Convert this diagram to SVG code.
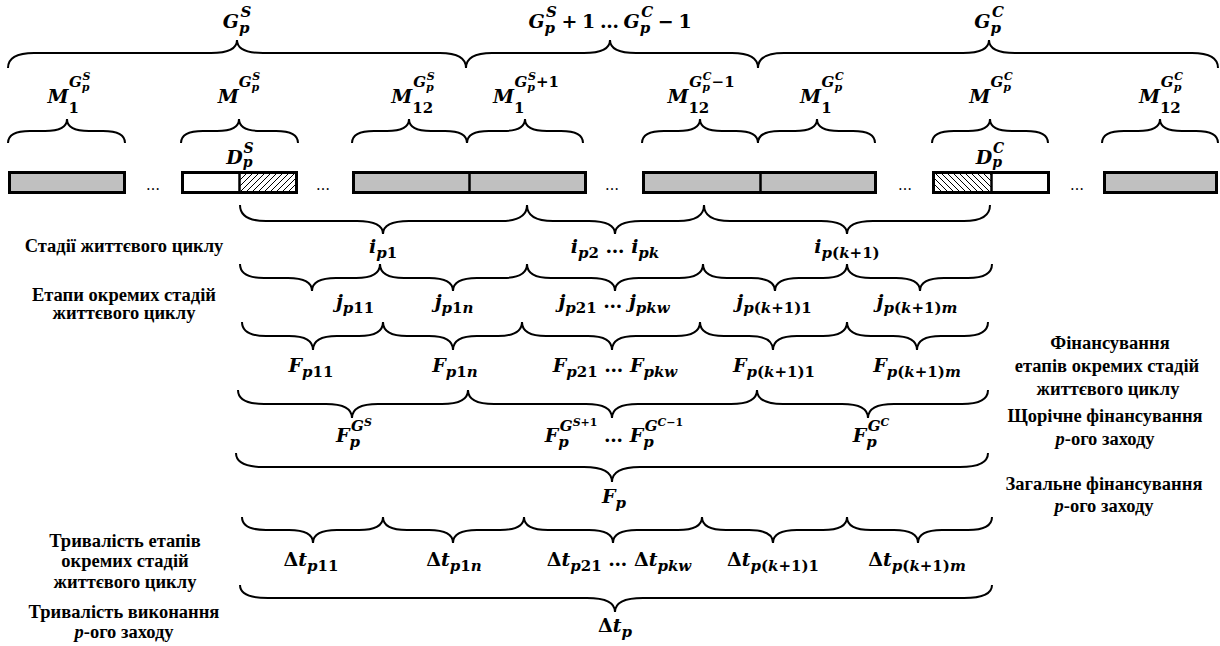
<svg xmlns="http://www.w3.org/2000/svg" width="1220" height="646" viewBox="0 0 1220 646">
<style>
.br{fill:none;stroke:#000;stroke-width:2}
.bar{stroke:#000;stroke-width:3}
.m{font-family:'DejaVu Serif',serif;font-weight:bold;font-style:italic;font-size:19px;text-anchor:middle;fill:#000}
.s{font-size:15px}
.ss{font-size:11px}
.n{font-style:normal}
.lb{font-family:'Liberation Serif',serif;font-weight:bold;font-size:18.5px;text-anchor:middle;fill:#000}
.it{font-style:italic}
.dots{font-family:'DejaVu Serif',serif;font-size:14px;text-anchor:middle;fill:#000}
</style>
<defs>
<pattern id="hf" width="6" height="6" patternUnits="userSpaceOnUse"><path d="M0,6 L6,0 M-1,1 L1,-1 M5,7 L7,5" stroke="#000" stroke-width="1"/></pattern>
<pattern id="hb" width="6" height="6" patternUnits="userSpaceOnUse"><path d="M0,0 L6,6 M-1,5 L1,7 M5,-1 L7,1" stroke="#000" stroke-width="1"/></pattern>
</defs>
<rect width="1220" height="646" fill="#fff"/>

<g id="bars">
<rect class="bar" x="9.5" y="172.5" width="115" height="20" fill="#c0c0c0"/>
<g id="bar-start">
<rect x="182.5" y="172.5" width="57" height="20" fill="#fff"/>
<rect x="239.5" y="172.5" width="57" height="20" fill="url(#hf)"/>
<rect class="bar" x="182.5" y="172.5" width="114" height="20" fill="none"/>
<line x1="239.5" y1="172" x2="239.5" y2="193" stroke="#000" stroke-width="2.5"/>
</g>
<rect class="bar" x="353.5" y="172.5" width="232" height="20" fill="#c0c0c0"/>
<line x1="469.5" y1="172" x2="469.5" y2="193" stroke="#000" stroke-width="2.5"/>
<rect class="bar" x="643.5" y="172.5" width="232" height="20" fill="#c0c0c0"/>
<line x1="760.5" y1="172" x2="760.5" y2="193" stroke="#000" stroke-width="2.5"/>
<g id="bar-end">
<rect x="933.5" y="172.5" width="58" height="20" fill="url(#hb)"/>
<rect x="991.5" y="172.5" width="57" height="20" fill="#fff"/>
<rect class="bar" x="933.5" y="172.5" width="115" height="20" fill="none"/>
<line x1="991.5" y1="172" x2="991.5" y2="193" stroke="#000" stroke-width="2.5"/>
</g>
<rect class="bar" x="1104.5" y="172.5" width="112" height="20" fill="#c0c0c0"/>
<text class="dots" x="153" y="190">…</text>
<text class="dots" x="323" y="190">…</text>
<text class="dots" x="612" y="190">…</text>
<text class="dots" x="905" y="190">…</text>
<text class="dots" x="1077" y="190">…</text>
</g>

<g id="connectors">
<path class="br" d="M8 68 Q8 53 34 53 H211 Q237 53 237 40 Q237 53 263 53 H440 Q466 53 466 68"/>
<path class="br" d="M466 68 Q466 53 492 53 H584 Q610 53 610 40 Q610 53 636 53 H732 Q758 53 758 68"/>
<path class="br" d="M758 68 Q758 53 784 53 H963 Q989 53 989 40 Q989 53 1015 53 H1192 Q1218 53 1218 68"/>

<path class="br" d="M8 143 Q8 131 30 131 H45 Q67 131 67 119 Q67 131 89 131 H103 Q125 131 125 143"/>
<path class="br" d="M181 143 Q181 131 203 131 H217 Q239 131 239 119 Q239 131 261 131 H276 Q298 131 298 143"/>
<path class="br" d="M352 143 Q352 131 374 131 H387 Q409 131 409 119 Q409 131 431 131 H445 Q467 131 467 143"/>
<path class="br" d="M467 143 Q467 131 489 131 H503 Q525 131 525 119 Q525 131 547 131 H561 Q583 131 583 143"/>
<path class="br" d="M642 143 Q642 131 664 131 H678 Q700 131 700 119 Q700 131 722 131 H736 Q758 131 758 143"/>
<path class="br" d="M758 143 Q758 131 780 131 H795 Q817 131 817 119 Q817 131 839 131 H853 Q875 131 875 143"/>
<path class="br" d="M932 143 Q932 131 954 131 H968 Q990 131 990 119 Q990 131 1012 131 H1026 Q1048 131 1048 143"/>
<path class="br" d="M1102 143 Q1102 131 1124 131 H1138 Q1160 131 1160 119 Q1160 131 1182 131 H1196 Q1218 131 1218 143"/>

<path class="br" d="M240 205 Q240 221 266 221 H357 Q383 221 383 234 Q383 221 409 221 H501 Q527 221 527 205"/>
<path class="br" d="M527 205 Q527 221 553 221 H589 Q615 221 615 234 Q615 221 641 221 H678 Q704 221 704 205"/>
<path class="br" d="M704 205 Q704 221 730 221 H821 Q847 221 847 234 Q847 221 873 221 H964 Q990 221 990 205"/>

<path class="br" d="M240 264 Q240 278 264 278 H288 Q312 278 312 291 Q312 278 336 278 H356 Q380 278 380 264"/>
<path class="br" d="M380 264 Q380 278 404 278 H429 Q453 278 453 291 Q453 278 477 278 H503 Q527 278 527 264"/>
<path class="br" d="M527 264 Q527 278 551 278 H591 Q615 278 615 291 Q615 278 639 278 H679 Q703 278 703 264"/>
<path class="br" d="M703 264 Q703 278 727 278 H751 Q775 278 775 291 Q775 278 799 278 H823 Q847 278 847 264"/>
<path class="br" d="M847 264 Q847 278 871 278 H896 Q920 278 920 291 Q920 278 944 278 H968 Q992 278 992 264"/>

<path class="br" d="M242 322 Q242 336 266 336 H289 Q313 336 313 350 Q313 336 337 336 H359 Q383 336 383 322"/>
<path class="br" d="M383 322 Q383 336 407 336 H429 Q453 336 453 350 Q453 336 477 336 H498 Q522 336 522 322"/>
<path class="br" d="M522 322 Q522 336 546 336 H588 Q612 336 612 350 Q612 336 636 336 H676 Q700 336 700 322"/>
<path class="br" d="M700 322 Q700 336 724 336 H749 Q773 336 773 350 Q773 336 797 336 H823 Q847 336 847 322"/>
<path class="br" d="M847 322 Q847 336 871 336 H893 Q917 336 917 350 Q917 336 941 336 H964 Q988 336 988 322"/>

<path class="br" d="M238 390 Q238 404 264 404 H326 Q352 404 352 418 Q352 404 378 404 H442 Q468 404 468 390"/>
<path class="br" d="M468 390 Q468 404 494 404 H586 Q612 404 612 418 Q612 404 638 404 H731 Q757 404 757 390"/>
<path class="br" d="M757 390 Q757 404 783 404 H842 Q868 404 868 418 Q868 404 894 404 H962 Q988 404 988 390"/>

<path class="br" d="M236 453 Q236 467 264 467 H584 Q612 467 612 482 Q612 467 640 467 H960 Q988 467 988 453"/>

<path class="br" d="M242 517 Q242 530 266 530 H289 Q313 530 313 543 Q313 530 337 530 H359 Q383 530 383 517"/>
<path class="br" d="M383 517 Q383 530 407 530 H429 Q453 530 453 543 Q453 530 477 530 H500 Q524 530 524 517"/>
<path class="br" d="M524 517 Q524 530 548 530 H589 Q613 530 613 543 Q613 530 637 530 H678 Q702 530 702 517"/>
<path class="br" d="M702 517 Q702 530 726 530 H749 Q773 530 773 543 Q773 530 797 530 H823 Q847 530 847 517"/>
<path class="br" d="M847 517 Q847 530 871 530 H894 Q918 530 918 543 Q918 530 942 530 H968 Q992 530 992 517"/>

<path class="br" d="M240 585 Q240 598 268 598 H587 Q615 598 615 612 Q615 598 643 598 H964 Q992 598 992 585"/>
</g>

<g id="years">
<text class="m" x="237" y="28">G<tspan class="s" dy="5">p</tspan><tspan class="s" dx="-9" dy="-16">S</tspan></text>
<text class="m" x="610" y="28" font-size="18" word-spacing="-2">G<tspan class="s" dy="5">p</tspan><tspan class="s" dx="-9" dy="-16">S</tspan><tspan class="n" dy="11"> + 1 … </tspan>G<tspan class="s" dy="5">p</tspan><tspan class="s" dx="-9" dy="-16">C</tspan><tspan class="n" dy="11"> − 1</tspan></text>
<text class="m" x="989" y="28">G<tspan class="s" dy="5">p</tspan><tspan class="s" dx="-9" dy="-16">C</tspan></text>
</g>

<g id="months">
<text class="m" x="69" y="103">M<tspan class="s n" dy="10">1</tspan><tspan class="s" dx="-10" dy="-26">G</tspan><tspan class="ss" dy="4">p</tspan><tspan class="ss" dx="-7" dy="-11">S</tspan></text>
<text class="m" x="239" y="103">M<tspan class="s" dy="-16">G</tspan><tspan class="ss" dy="4">p</tspan><tspan class="ss" dx="-7" dy="-11">S</tspan></text>
<text class="m" x="413" y="103">M<tspan class="s n" dy="10">12</tspan><tspan class="s" dx="-20" dy="-26">G</tspan><tspan class="ss" dy="4">p</tspan><tspan class="ss" dx="-7" dy="-11">S</tspan></text>
<text class="m" x="526" y="103">M<tspan class="s n" dy="10">1</tspan><tspan class="s" dx="-10" dy="-26">G</tspan><tspan class="ss" dy="4">p</tspan><tspan class="ss" dx="-7" dy="-11">S</tspan><tspan class="s n" dy="7">+1</tspan></text>
<text class="m" x="701" y="103">M<tspan class="s n" dy="10">12</tspan><tspan class="s" dx="-20" dy="-26">G</tspan><tspan class="ss" dy="4">p</tspan><tspan class="ss" dx="-7" dy="-11">C</tspan><tspan class="s n" dy="7">−1</tspan></text>
<text class="m" x="822" y="103">M<tspan class="s n" dy="10">1</tspan><tspan class="s" dx="-10" dy="-26">G</tspan><tspan class="ss" dy="4">p</tspan><tspan class="ss" dx="-7" dy="-11">C</tspan></text>
<text class="m" x="991" y="103">M<tspan class="s" dy="-16">G</tspan><tspan class="ss" dy="4">p</tspan><tspan class="ss" dx="-7" dy="-11">C</tspan></text>
<text class="m" x="1161" y="103">M<tspan class="s n" dy="10">12</tspan><tspan class="s" dx="-20" dy="-26">G</tspan><tspan class="ss" dy="4">p</tspan><tspan class="ss" dx="-7" dy="-11">C</tspan></text>
<text class="m" x="240" y="164" font-size="18">D<tspan font-size="14" dy="3">p</tspan><tspan font-size="14" dx="-9" dy="-14">S</tspan></text>
<text class="m" x="990" y="164" font-size="18">D<tspan font-size="14" dy="3">p</tspan><tspan font-size="14" dx="-9" dy="-14">C</tspan></text>
</g>

<g id="stages">
<text class="m" x="383" y="253">i<tspan class="s" dy="5">p</tspan><tspan class="s n">1</tspan></text>
<text class="m" x="615" y="253">i<tspan class="s" dy="5">p</tspan><tspan class="s n">2</tspan><tspan class="n" dy="-5"> … </tspan>i<tspan class="s" dy="5">pk</tspan></text>
<text class="m" x="847" y="253">i<tspan class="s" dy="5">p</tspan><tspan class="s n">(</tspan><tspan class="s">k</tspan><tspan class="s n">+1)</tspan></text>
</g>

<g id="steps">
<text class="m" x="355" y="308">j<tspan class="s" dy="5">p</tspan><tspan class="s n">11</tspan></text>
<text class="m" x="454" y="308">j<tspan class="s" dy="5">p</tspan><tspan class="s n">1</tspan><tspan class="s">n</tspan></text>
<text class="m" x="614" y="308">j<tspan class="s" dy="5">p</tspan><tspan class="s n">21</tspan><tspan class="n" dy="-5"> … </tspan>j<tspan class="s" dy="5">pkw</tspan></text>
<text class="m" x="774" y="308">j<tspan class="s" dy="5">p</tspan><tspan class="s n">(</tspan><tspan class="s">k</tspan><tspan class="s n">+1)1</tspan></text>
<text class="m" x="917" y="308">j<tspan class="s" dy="5">p</tspan><tspan class="s n">(</tspan><tspan class="s">k</tspan><tspan class="s n">+1)</tspan><tspan class="s">m</tspan></text>
</g>

<g id="funding-steps">
<text class="m" x="311" y="372">F<tspan class="s" dy="5">p</tspan><tspan class="s n">11</tspan></text>
<text class="m" x="455" y="372">F<tspan class="s" dy="5">p</tspan><tspan class="s n">1</tspan><tspan class="s">n</tspan></text>
<text class="m" x="615" y="372">F<tspan class="s" dy="5">p</tspan><tspan class="s n">21</tspan><tspan class="n" dy="-5"> … </tspan>F<tspan class="s" dy="5">pkw</tspan></text>
<text class="m" x="774" y="372">F<tspan class="s" dy="5">p</tspan><tspan class="s n">(</tspan><tspan class="s">k</tspan><tspan class="s n">+1)1</tspan></text>
<text class="m" x="917" y="372">F<tspan class="s" dy="5">p</tspan><tspan class="s n">(</tspan><tspan class="s">k</tspan><tspan class="s n">+1)</tspan><tspan class="s">m</tspan></text>
</g>

<g id="funding-years">
<text class="m" x="354" y="442">F<tspan class="s" dy="5">p</tspan><tspan class="s" dx="-9" dy="-16">G</tspan><tspan class="ss" dy="-5">S</tspan></text>
<text class="m" x="614" y="442">F<tspan class="s" dy="5">p</tspan><tspan class="s" dx="-9" dy="-16">G</tspan><tspan class="ss" dy="-5">S</tspan><tspan class="ss n">+1</tspan><tspan class="n" dy="16"> … </tspan>F<tspan class="s" dy="5">p</tspan><tspan class="s" dx="-9" dy="-16">G</tspan><tspan class="ss" dy="-5">C</tspan><tspan class="ss n">−1</tspan></text>
<text class="m" x="871" y="442">F<tspan class="s" dy="5">p</tspan><tspan class="s" dx="-9" dy="-16">G</tspan><tspan class="ss" dy="-5">C</tspan></text>
<text class="m" x="614" y="503">F<tspan class="s" dy="5">p</tspan></text>
</g>

<g id="durations">
<text class="m" x="311" y="566"><tspan class="n">Δ</tspan>t<tspan class="s" dy="5">p</tspan><tspan class="s n">11</tspan></text>
<text class="m" x="454" y="566"><tspan class="n">Δ</tspan>t<tspan class="s" dy="5">p</tspan><tspan class="s n">1</tspan><tspan class="s">n</tspan></text>
<text class="m" x="619" y="566"><tspan class="n">Δ</tspan>t<tspan class="s" dy="5">p</tspan><tspan class="s n">21</tspan><tspan class="n" dy="-5"> … Δ</tspan>t<tspan class="s" dy="5">pkw</tspan></text>
<text class="m" x="773" y="566"><tspan class="n">Δ</tspan>t<tspan class="s" dy="5">p</tspan><tspan class="s n">(</tspan><tspan class="s">k</tspan><tspan class="s n">+1)1</tspan></text>
<text class="m" x="917" y="566"><tspan class="n">Δ</tspan>t<tspan class="s" dy="5">p</tspan><tspan class="s n">(</tspan><tspan class="s">k</tspan><tspan class="s n">+1)</tspan><tspan class="s">m</tspan></text>
<text class="m" x="615" y="632"><tspan class="n">Δ</tspan>t<tspan class="s" dy="5">p</tspan></text>
</g>

<g id="left-labels">
<text class="lb" x="124" y="252">Стадії життєвого циклу</text>
<text class="lb" x="124" y="301">Етапи окремих стадій</text>
<text class="lb" x="124" y="319">життєвого циклу</text>
<text class="lb" x="125" y="547">Тривалість етапів</text>
<text class="lb" x="125" y="567">окремих стадій</text>
<text class="lb" x="125" y="588">життєвого циклу</text>
<text class="lb" x="124" y="618">Тривалість виконання</text>
<text class="lb" x="124" y="638"><tspan class="it">p</tspan>-ого заходу</text>
</g>

<g id="right-labels">
<text class="lb" x="1110" y="349">Фінансування</text>
<text class="lb" x="1107" y="372">етапів окремих стадій</text>
<text class="lb" x="1108" y="395">життєвого циклу</text>
<text class="lb" x="1105" y="422">Щорічне фінансування</text>
<text class="lb" x="1105" y="445"><tspan class="it">p</tspan>-ого заходу</text>
<text class="lb" x="1104" y="490">Загальне фінансування</text>
<text class="lb" x="1104" y="512"><tspan class="it">p</tspan>-ого заходу</text>
</g>
</svg>
